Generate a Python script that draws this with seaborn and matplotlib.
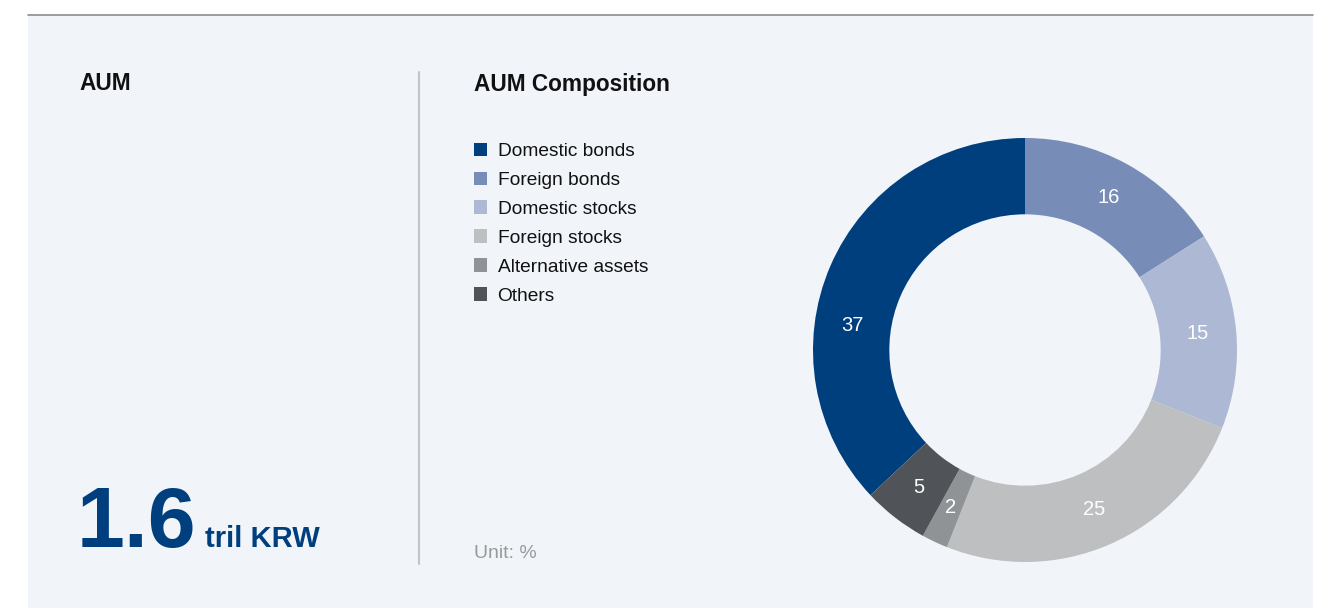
import matplotlib
matplotlib.use("Agg")
import matplotlib.pyplot as plt
import seaborn as sns
import numpy as np
from matplotlib.patches import Rectangle
from matplotlib.lines import Line2D

# AUM composition (Unit: %)
categories = ["Domestic bonds", "Foreign bonds", "Domestic stocks",
              "Foreign stocks", "Alternative assets", "Others"]
shares = [37, 16, 15, 25, 2, 5]
colors = ["#003f7d", "#778db7", "#adb8d5", "#bebfc1", "#909396", "#505458"]

aum_value = "1.6"
aum_unit = "tril KRW"

sns.set_theme(style="white")
plt.rcParams['font.family'] = ['Liberation Sans', 'DejaVu Sans']

W, H = 1329, 610
fig = plt.figure(figsize=(W / 100, H / 100), dpi=100, facecolor="white")

def fx(px):
    return px / W

def fy(py):
    return 1 - py / H

# panel background + top rule
fig.patches.append(Rectangle((fx(28), fy(608)), fx(1313) - fx(28), fy(15) - fy(608),
                             transform=fig.transFigure, facecolor="#f1f4f9",
                             edgecolor="none", zorder=-5))
fig.lines.append(Line2D([fx(28), fx(1313)], [fy(14.5), fy(14.5)],
                        transform=fig.transFigure, color="#8c8c8c", lw=1.2))
# divider
fig.lines.append(Line2D([fx(419), fx(419)], [fy(72), fy(564)],
                        transform=fig.transFigure, color="#c4c4c4", lw=1.5))

# titles
fig.text(fx(79), fy(84), "AUM", fontsize=16.3, fontweight="bold",
         color="#111111", va="center", ha="left")
fig.text(fx(474), fy(84), "AUM Composition", fontsize=16.3, fontweight="bold",
         color="#111111", va="center", ha="left")

# big number
fig.text(fx(77), fy(547), aum_value, fontsize=62, fontweight="bold",
         color="#003f7d", va="baseline", ha="left")
fig.text(fx(205), fy(547), aum_unit, fontsize=21, fontweight="bold",
         color="#003f7d", va="baseline", ha="left")

fig.text(fx(474), fy(553), "Unit: %", fontsize=14, color="#9a9a9a",
         va="center", ha="left")

# donut
ax = fig.add_axes([fx(813), fy(562), fx(424), 424 / H])
start = 90 + shares[0] * 3.6
wedges, texts = ax.pie(shares, colors=colors, startangle=start, counterclock=False,
                       radius=1, wedgeprops=dict(width=0.36, edgecolor="none"),
                       labels=[str(s) for s in shares], labeldistance=0.82,
                       textprops=dict(color="white", fontsize=14.5))
for tx in texts:
    tx.set_ha("center")
    tx.set_va("center")
# the large slice's label sits lower on the ring in the original
ang = np.deg2rad(172)
texts[0].set_position((0.82 * np.cos(ang), 0.82 * np.sin(ang)))
ax.set_xlim(-1, 1)
ax.set_ylim(-1, 1)
ax.set_axis_off()
ax.patch.set_alpha(0)

# legend
leg = fig.legend(wedges, categories, loc="upper left",
                 bbox_to_anchor=(fx(466), fy(135)), frameon=False,
                 fontsize=13.8, handlelength=0.7, handleheight=0.7,
                 handletextpad=0.55, labelspacing=0.6, borderaxespad=0)
for txt in leg.get_texts():
    txt.set_color("#111111")

fig.savefig("out.png", dpi=100, facecolor=fig.get_facecolor())
